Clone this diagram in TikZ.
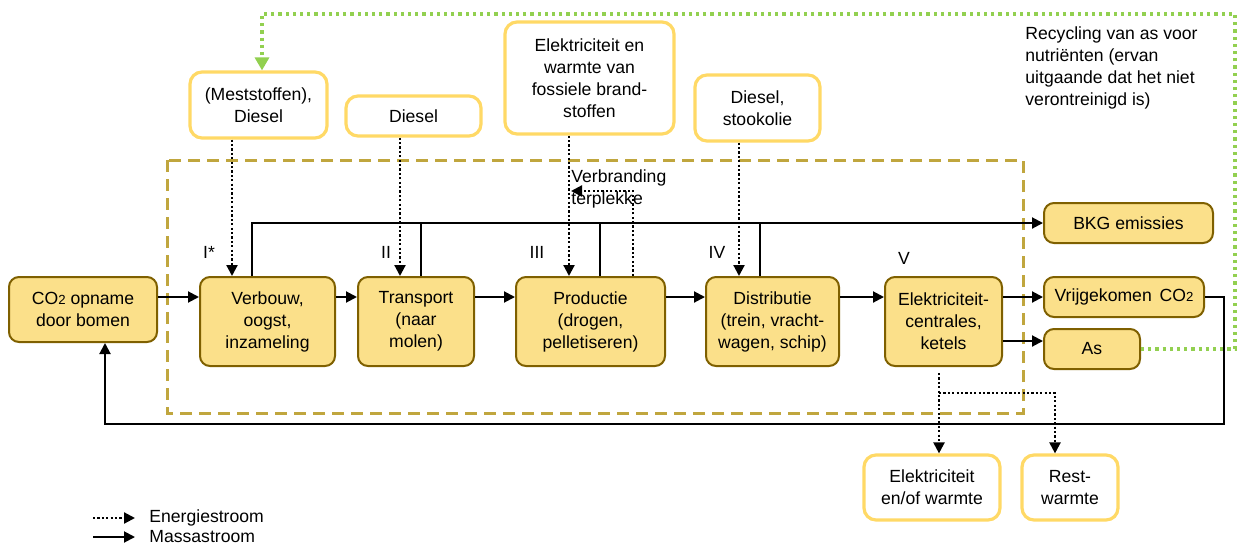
\documentclass[tikz,border=0pt]{standalone}
\usepackage{fontspec}
\setmainfont{Liberation Sans}
\usepackage{tikz}
\usetikzlibrary{arrows.meta,positioning,calc}
\definecolor{bmfill}{RGB}{251,224,138}
\definecolor{bmdraw}{RGB}{127,96,0}
\definecolor{bmyellow}{RGB}{255,217,102}
\definecolor{bmolive}{RGB}{192,166,62}
\definecolor{bmgreen}{RGB}{146,208,80}
\newcommand{\cotwo}{CO{\fontsize{6.6}{8}\selectfont 2}}
\tikzstyle{process} = [rectangle, rounded corners=5pt, align=center, draw=bmdraw, fill=bmfill, line width=1pt, inner sep=2pt, minimum height=44.5pt]
\tikzstyle{output} = [rectangle, rounded corners=5pt, align=center, draw=bmdraw, fill=bmfill, line width=1pt, inner sep=2pt, minimum height=20pt]
\tikzstyle{input} = [rectangle, rounded corners=6pt, align=center, draw=bmyellow, fill=white, line width=1.6pt, inner sep=2pt]
\tikzstyle{mass} = [line width=1pt, -{Triangle[length=5.5pt,width=5.5pt]}]
\tikzstyle{energy} = [line width=1.1pt, dash pattern=on 1.1pt off 1.1pt, -{Triangle[length=5.5pt,width=5.5pt]}]
\tikzstyle{recycle} = [bmgreen, line width=1.6pt, dash pattern=on 1.6pt off 2pt, -{Triangle[length=6.5pt,width=7pt]}]
\tikzstyle{phase} = [inner sep=0pt]

\begin{document}
\begin{tikzpicture}[x=0.5pt, y=-0.5pt, font=\fontsize{8.8}{11}\selectfont]
\useasboundingbox (0,0) rectangle (1241,546);

% System boundary
\draw[bmolive, line width=1.5pt, dash pattern=on 6pt off 3.5pt] (167,160) rectangle (1023,413);

% Process chain
\node (co2) [process, minimum width=74pt, minimum height=32.5pt] at (83,309.5) {\cotwo{} opname\\door bomen};
\node (verbouw) [process, minimum width=67.5pt] at (267.5,321.5) {Verbouw,\\oogst,\\inzameling};
\node (transport) [process, right of=verbouw, node distance=74.25pt, minimum width=58pt] {Transport\\(naar\\molen)};
\node (productie) [process, right of=transport, node distance=87.25pt, minimum width=74.5pt] {Productie\\(drogen,\\pelletiseren)};
\node (distributie) [process, right of=productie, node distance=91pt, minimum width=66.5pt] {Distributie\\(trein, vracht-\\wagen, schip)};
\node (centrales) [process, right of=distributie, node distance=85.5pt, minimum width=58.5pt] {Elektriciteit-\\centrales,\\ketels};

% Outputs
\node (bkg) [output, minimum width=84.5pt] at (1128.5,223) {BKG emissies};
\node (vrij) [output, minimum width=80pt] at (1124,297) {Vrijgekomen \,\cotwo};
\node (as) [output, minimum width=48pt] at (1092,349) {As};

% Energy inputs
\node (mest) [input, minimum width=68.5pt, minimum height=33pt] at (258.5,105) {(Meststoffen),\\Diesel};
\node (diesel) [input, minimum width=67.5pt, minimum height=20pt] at (413.5,116) {Diesel};
\node (fossiel) [input, minimum width=84.5pt, minimum height=56pt] at (589.5,78) {Elektriciteit en\\warmte van\\fossiele brand-\\stoffen};
\node (stook) [input, minimum width=62.5pt, minimum height=33pt] at (757.5,108) {Diesel,\\stookolie};
\node (elekwarm) [input, minimum width=68pt, minimum height=32.5pt] at (932,487.5) {Elektriciteit\\en/of warmte};
\node (restwarm) [input, minimum width=48pt, minimum height=32.5pt] at (1070,487.5) {Rest-\\warmte};

% Phase labels
\node (ph1) [phase] at (209,252) {I*};
\node (ph2) [phase] at (386,252) {II};
\node (ph3) [phase] at (537,252) {III};
\node (ph4) [phase] at (717,252) {IV};
\node (ph5) [phase] at (904,258) {V};
\node (verbr) [phase, align=left, anchor=west] at (571,189) {Verbranding\\terplekke};
\node (recyc) [phase, align=left, anchor=north west] at (1025,26) {Recycling van as voor\\nutriënten (ervan\\uitgaande dat het niet\\verontreinigd is)};

% Mass flows
\coordinate (flow) at (0,297);
\draw[mass] (co2.east |- flow) -- (verbouw.west |- flow);
\draw[mass] (verbouw.east |- flow) -- (transport.west |- flow);
\draw[mass] (transport.east |- flow) -- (productie.west |- flow);
\draw[mass] (productie.east |- flow) -- (distributie.west |- flow);
\draw[mass] (distributie.east |- flow) -- (centrales.west |- flow);
\draw[mass] (centrales.east |- vrij.west) -- (vrij.west);
\draw[mass] (centrales.east |- 0,341) -- (as.west |- 0,341);

% Emissions
\coordinate (r1) at (252,0);
\coordinate (r2) at (421,0);
\coordinate (r3) at (600,0);
\coordinate (r4) at (760,0);
\draw[mass] (r1 |- verbouw.north) |- (bkg.west);
\draw[line width=1pt] (r2 |- transport.north) -- (r2 |- bkg.west);
\draw[line width=1pt] (r3 |- productie.north) -- (r3 |- bkg.west);
\draw[line width=1pt] (r4 |- distributie.north) -- (r4 |- bkg.west);

% Return to forest
\coordinate (ret1) at (1224,424);
\coordinate (ret2) at (105,424);
\draw[mass] (vrij.east) -| (ret1) -- (ret2) -- (ret2 |- co2.south);

% Energy flows
\coordinate (e1) at (232,0);
\coordinate (e2) at (400,0);
\coordinate (e3) at (569,0);
\coordinate (e4) at (739,0);
\coordinate (e5) at (633,191);
\draw[energy] (e1 |- mest.south) -- (e1 |- verbouw.north);
\draw[energy] (e2 |- diesel.south) -- (e2 |- transport.north);
\draw[energy] (e3 |- fossiel.south) -- (e3 |- productie.north);
\draw[energy] (e4 |- stook.south) -- (e4 |- distributie.north);
\draw[energy, shorten >=1pt] (e5 |- productie.north) -- (e5) -- (e3 |- e5);

\coordinate (o1) at (939,393);
\coordinate (o2) at (1055,393);
\draw[energy, shorten <=3pt] (o1 |- centrales.south) -- (o1 |- elekwarm.north);
\draw[energy] (o1) -- (o2) -- (o2 |- restwarm.north);

% Ash recycling
\coordinate (g1) at (1235,14);
\coordinate (g2) at (262,14);
\draw[recycle] (as.east) -| (g1) -- (g2) -- (g2 |- mest.north);

% Legend
\node (legE) [phase, anchor=west] at (149,518) {Energiestroom};
\node (legM) [phase, anchor=west] at (149,537) {Massastroom};
\coordinate (lE) at (93,518);
\coordinate (lM) at (93,537);
\draw[energy, shorten >=7pt] (lE) -- (legE.west);
\draw[mass, shorten >=7pt] (lM) -- (legM.west);
\end{tikzpicture}
\end{document}
